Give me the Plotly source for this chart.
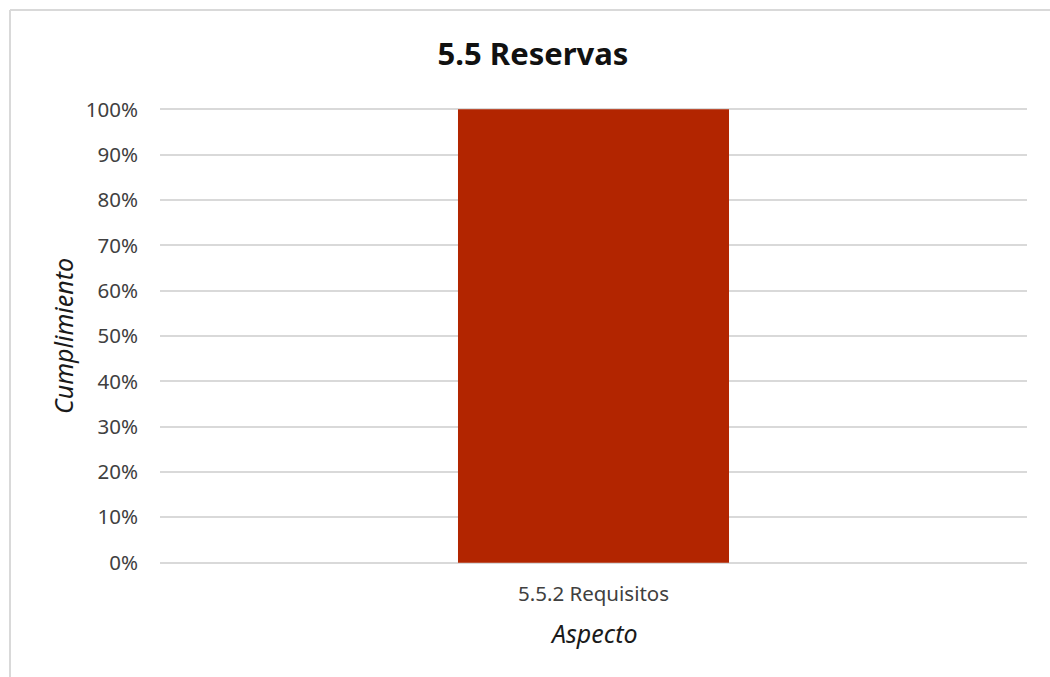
import plotly.graph_objects as go

# Compliance by aspect
categories = ["5.5.2 Requisitos"]
compliance = [1.0]
tick_values = [0, 0.1, 0.2, 0.3, 0.4, 0.5, 0.6, 0.7, 0.8, 0.9, 1.0]
tick_labels = ["0%", "10%", "20%", "30%", "40%", "50%", "60%", "70%", "80%", "90%", "100%"]

W, H = 1050, 677
L, R, T, B = 160, 23, 108, 113
pw, ph = W - L - R, H - T - B

def px_x(x):
    return (x - L) / pw

def px_y(y):
    return 1 - (y - T) / ph

font_family = "Noto Sans, Open Sans, sans-serif"
grid_col = "#d9d9d9"

fig = go.Figure(
    go.Bar(
        x=categories,
        y=compliance,
        marker=dict(color="#B22500", line=dict(width=0)),
        width=0.3126,
    )
)

fig.update_layout(
    width=W,
    height=H,
    margin=dict(l=L, r=R, t=T, b=B),
    paper_bgcolor="white",
    plot_bgcolor="white",
    showlegend=False,
    font=dict(family=font_family, size=20, color="#404040"),
    title=dict(
        text="<b>5.5 Reservas</b>",
        x=px_x(533), xref="paper", xanchor="center",
        y=1 - 54 / H, yref="container", yanchor="middle",
        font=dict(family=font_family, size=31, color="#111111"),
    ),
    xaxis=dict(
        showgrid=False, showline=False, zeroline=False, ticks="",
        tickfont=dict(size=20.5, color="#404040"),
        ticklabelstandoff=15,
        range=[-0.5, 0.5],
    ),
    yaxis=dict(
        range=[-0.003, 1.003],
        tickvals=tick_values,
        ticktext=tick_labels,
        showgrid=True, gridcolor=grid_col, gridwidth=1.5,
        zeroline=False, showline=False, ticks="",
        ticklabelstandoff=21,
        tickfont=dict(size=20.5, color="#404040"),
    ),
    annotations=[
        dict(text="<i>Cumplimiento</i>", textangle=-90,
             x=px_x(63), y=px_y(336), xref="paper", yref="paper",
             xanchor="center", yanchor="middle", showarrow=False,
             font=dict(size=25, color="#1a1a1a")),
        dict(text="<i>Aspecto</i>",
             x=0.5, y=px_y(633), xref="paper", yref="paper",
             xanchor="center", yanchor="middle", showarrow=False,
             font=dict(size=25, color="#1a1a1a")),
    ],
    shapes=[
        dict(type="line", xref="paper", yref="paper",
             x0=px_x(10), x1=px_x(1060), y0=px_y(10), y1=px_y(10),
             line=dict(color=grid_col, width=2)),
        dict(type="line", xref="paper", yref="paper",
             x0=px_x(10), x1=px_x(10), y0=px_y(10), y1=px_y(690),
             line=dict(color=grid_col, width=2)),
    ],
)

fig.write_html("out.html")
